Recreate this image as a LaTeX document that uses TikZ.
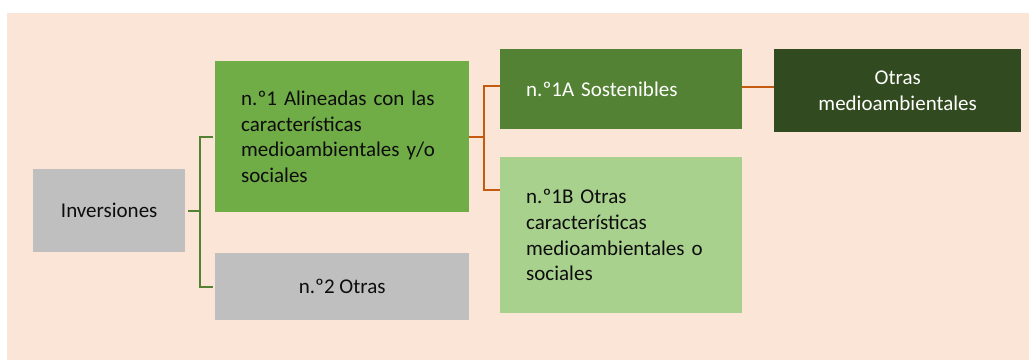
\documentclass[tikz,border=0pt]{standalone}
\usepackage{fontspec}
\setmainfont{Carlito}
\usetikzlibrary{calc}
\definecolor{bgpeach}{HTML}{FBE5D6}
\definecolor{boxgrey}{HTML}{BFBFBF}
\definecolor{gmid}{HTML}{70AD47}
\definecolor{gdark}{HTML}{548235}
\definecolor{glight}{HTML}{A9D18E}
\definecolor{gdeep}{HTML}{314A1F}
\definecolor{orangeline}{HTML}{C55A11}
\definecolor{txt}{HTML}{0D0D0D}
\tikzset{
  box/.style={anchor=north west, inner ysep=0pt, font=\fontsize{21}{25.7}\selectfont},
  lbox/.style={box, align=left, inner xsep=26pt},
  cbox/.style={box, align=center, inner xsep=0pt},
  gline/.style={draw=gdark, line width=2pt},
  oline/.style={draw=orangeline, line width=2pt}
}
\begin{document}
\begin{tikzpicture}[x=1pt,y=-1pt]
\useasboundingbox (0,0) rectangle (1029,360);
\fill[white] (0,0) rectangle (1029,360);
\fill[bgpeach] (7,13) rectangle (1029,360);

\node[cbox, fill=boxgrey, text=txt, minimum width=152pt, minimum height=83pt] (inv) at (33,169) {Inversiones};
\node[lbox, fill=gmid, text=txt, text width=202pt, minimum height=151pt] (n1) at (215,61)
  {n.º1 Alineadas con las\\características\\medioambientales y/o\\sociales};
\node[cbox, fill=boxgrey, text=txt, minimum width=254pt, minimum height=67pt] (n2) at (215,253) {n.º2 Otras};
\node[lbox, fill=gdark, text=white, text width=190pt, minimum height=80pt] (a1) at (500,49) {n.º1A Sostenibles};
\node[lbox, fill=glight, text=txt, text width=190pt, minimum height=156pt] (b1) at (500,157)
  {n.º1B Otras\\características\\medioambientales o\\sociales};
\node[cbox, fill=gdeep, text=white, minimum width=247pt, minimum height=83pt] (oth) at (774,49)
  {Otras\\medioambientales};

% green connectors
\coordinate (gx) at ($(n1.west)+(-15,0)$);
\draw[gline] ([xshift=3pt]inv.east) -- (gx |- inv.east);
\draw[gline] ([xshift=-2pt]n1.west) -- (gx) |- ([xshift=-2pt]n2.west);

% orange connectors
\coordinate (ox) at ($(n1.east)+(15,0)$);
\coordinate (a1in) at ($(a1.west)+(0,-3)$);
\coordinate (b1in) at ($(b1.north west)+(0,33)$);
\draw[oline] (n1.east) -- (ox);
\draw[oline] (a1in) -| (ox) |- (b1in);
\draw[oline] ([yshift=2pt]a1.east) -- ([yshift=2pt]a1.east -| oth.west);
\end{tikzpicture}
\end{document}
